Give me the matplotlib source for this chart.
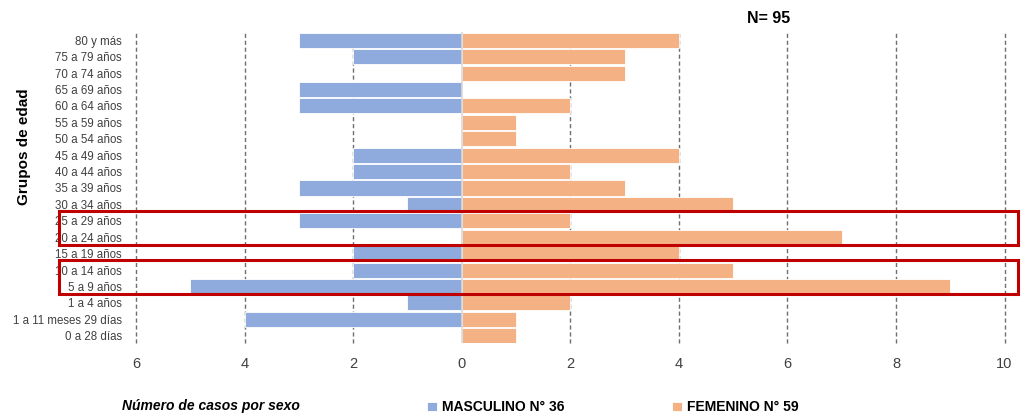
import matplotlib

matplotlib.use("Agg", force=True)
import matplotlib.pyplot as plt
import matplotlib.transforms as mtransforms
from matplotlib.patches import Rectangle
import numpy as np

# age groups, top to bottom as they appear in the chart
grupos = [
    "80 y más", "75 a 79 años", "70 a 74 años", "65 a 69 años", "60 a 64 años",
    "55 a 59 años", "50 a 54 años", "45 a 49 años", "40 a 44 años", "35 a 39 años",
    "30 a 34 años", "25 a 29 años", "20 a 24 años", "15 a 19 años", "10 a 14 años",
    "5 a 9 años", "1 a 4 años", "1 a 11 meses 29 días", "0 a 28 días",
]
masculino = [3, 2, 0, 3, 3, 0, 0, 2, 2, 3, 1, 3, 0, 2, 2, 5, 1, 4, 0]
femenino = [4, 3, 3, 0, 2, 1, 1, 4, 2, 3, 5, 2, 7, 4, 5, 9, 2, 1, 1]
xticks = [-6, -4, -2, 0, 2, 4, 6, 8, 10]
resaltados = [("25 a 29 años", "20 a 24 años"), ("10 a 14 años", "5 a 9 años")]

AZUL = "#8FAADC"
NARANJA = "#F4B183"
ROJO = "#C00000"

plt.rcParams["font.family"] = ["Liberation Sans Narrow", "Liberation Sans", "DejaVu Sans"]

n = len(grupos)
y = np.arange(n)[::-1]  # first group at the top

fig = plt.figure(figsize=(10.24, 4.19), dpi=100)
ax = fig.add_axes([0.1328, 0.181, 0.8482, 0.7426])

ax.barh(y, -np.array(masculino), height=0.92, color=AZUL, edgecolor="white", linewidth=0.6,
        label=f"MASCULINO N° {sum(masculino)}", zorder=3)
ax.barh(y, femenino, height=0.92, color=NARANJA, edgecolor="white", linewidth=0.6,
        label=f"FEMENINO N° {sum(femenino)}", zorder=3)

ax.set_xlim(-6, 10)
ax.set_ylim(-0.45, n - 0.5)
ax.set_xticks(xticks)
ax.set_xticklabels([str(abs(v)) for v in xticks], fontsize=10.5, color="#404040")
ax.set_yticks(y)
ax.set_yticklabels(grupos, fontsize=8.3, color="#404040")
ax.tick_params(axis="both", length=0)
ax.tick_params(axis="x", pad=10)
ax.tick_params(axis="y", pad=10)
for s in ax.spines.values():
    s.set_visible(False)

for v in xticks:
    if v == 0:
        ax.axvline(v, color="#D9D9D9", lw=1.2, zorder=4)
    else:
        ax.axvline(v, color="#6F6F6F", lw=1.0, ls=(0, (3, 2)), zorder=1, clip_on=False)

ax.set_ylabel("Grupos de edad", fontsize=11, fontweight="bold")
ax.yaxis.set_label_coords(-0.121, 0.63)

# highlight boxes: x in figure coords, y in data coords
trans = mtransforms.blended_transform_factory(fig.transFigure, ax.transData)
for a, b in resaltados:
    y_top = y[grupos.index(a)]
    y_bot = y[grupos.index(b)]
    rect = Rectangle((0.0576, y_bot - 0.45), 0.937, (y_top - y_bot) + 1.07,
                     transform=trans, fill=False, edgecolor=ROJO, lw=2.2,
                     clip_on=False, zorder=6)
    fig.add_artist(rect)

fig.text(0.751, 0.955, f"N= {sum(masculino) + sum(femenino)}", ha="center", va="center",
         fontsize=11.5, fontweight="bold")
fig.text(0.206, 0.032, "Número de casos por sexo", ha="center", va="center",
         fontsize=10, fontweight="bold", style="italic")

leg = fig.legend(loc="center left", bbox_to_anchor=(0.405, 0.028), ncol=2, frameon=False,
                 fontsize=10, handlelength=0.7, handleheight=0.7, columnspacing=7.7,
                 handletextpad=0.4)
for t in leg.get_texts():
    t.set_fontweight("bold")

fig.savefig("out.png", dpi=100)
